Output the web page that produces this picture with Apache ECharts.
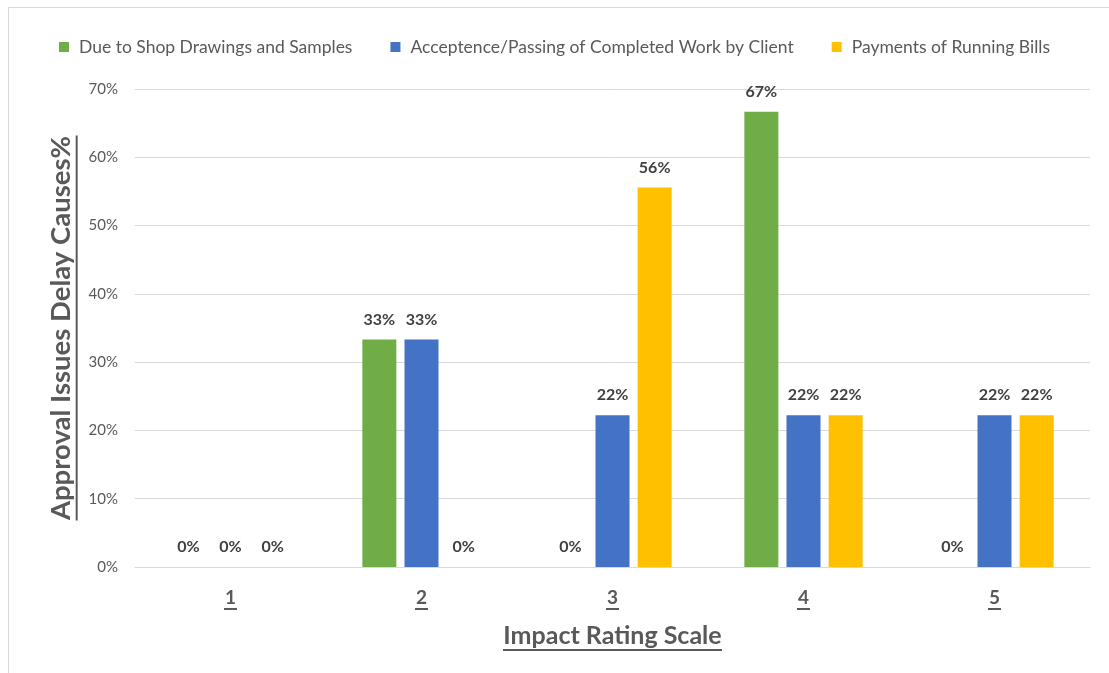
<!DOCTYPE html>
<html>
<head>
<meta charset="utf-8">
<script src="https://cdn.jsdelivr.net/npm/echarts@6/dist/echarts.min.js"></script>
<style>
  html, body { margin: 0; padding: 0; background: #fff; }
  #chart { width: 1109px; height: 673px; }
  #frame { position: absolute; left: 8px; top: 7px; width: 1120px; height: 700px;
           border: 1px solid #d9d9d9; pointer-events: none; }
</style>
</head>
<body>
<div id="chart"></div>
<div id="frame"></div>
<script>
const categories = ['1', '2', '3', '4', '5'];
const seriesNames = [
  'Due to Shop Drawings and Samples',
  'Acceptence/Passing of Completed Work by Client',
  'Payments of Running Bills'
];
const shopDrawings = [0, 33.33, 0, 66.67, 0];
const acceptance = [0, 33.33, 22.22, 22.22, 22.22];
const payments = [0, 0, 55.56, 22.22, 22.22];
const colors = ['#70AD47', '#4472C4', '#FFC000'];
const xName = 'Impact Rating Scale';
const yName = 'Approval Issues Delay Causes%';

const FONT = 'Lato, "Open Sans", sans-serif';

// text width, used to size the underline bars
const ctx = document.createElement('canvas').getContext('2d');
function textWidth(text, size, weight) {
  ctx.font = weight + ' ' + size + 'px ' + FONT;
  return Math.ceil(ctx.measureText(text).width);
}

function barSeries(name, data, color) {
  return {
    name: name,
    type: 'bar',
    data: data,
    barWidth: 34,
    barGap: '24%',
    itemStyle: { color: color },
    label: {
      show: true,
      position: 'top',
      distance: 12,
      fontFamily: FONT,
      fontSize: 16,
      fontWeight: 'bold',
      color: '#404040',
      formatter: p => Math.round(p.value) + '%'
    }
  };
}

let chart = echarts.init(document.getElementById('chart'));
const option = {
  animation: false,
  textStyle: { fontFamily: FONT },
  legend: {
    top: 33,
    left: 'center',
    itemWidth: 10,
    itemHeight: 10,
    itemGap: 38,
    icon: 'rect',
    textStyle: { fontSize: 17.5, color: '#595959', fontFamily: FONT, padding: [0, 0, 0, 5] }
  },
  grid: { left: 135, right: 19, top: 89, bottom: 106 },
  xAxis: {
    type: 'category',
    data: categories,
    axisLine: { lineStyle: { color: '#d9d9d9', width: 1 } },
    axisTick: { show: false },
    axisLabel: {
      margin: 21,
      formatter: v => '{d|' + v + '}\n{u| }',
      rich: {
        d: { fontSize: 19, fontWeight: 'bold', color: '#595959', fontFamily: FONT, lineHeight: 20 },
        u: { width: textWidth('1', 19, 'bold') + 1, height: 2, lineHeight: 2, fontSize: 1, backgroundColor: '#595959' }
      }
    },
    name: '{t|' + xName + '}\n{u| }',
    nameLocation: 'middle',
    nameGap: 55,
    nameTextStyle: {
      rich: {
        t: { fontSize: 25, fontWeight: 'bold', color: '#595959', fontFamily: FONT, lineHeight: 27 },
        u: { width: textWidth(xName, 25, 'bold'), height: 2, lineHeight: 2, fontSize: 1, backgroundColor: '#595959' }
      }
    }
  },
  yAxis: {
    type: 'value',
    min: 0,
    max: 70,
    interval: 10,
    axisLine: { show: false },
    axisTick: { show: false },
    splitLine: { lineStyle: { color: '#d9d9d9', width: 1 } },
    axisLabel: {
      margin: 17,
      formatter: '{value}%',
      fontSize: 15,
      color: '#595959',
      fontFamily: FONT
    },
    name: '{t|' + yName + '}\n{u| }',
    nameLocation: 'middle',
    nameRotate: 90,
    nameGap: 52,
    nameTextStyle: {
      rich: {
        t: { fontSize: 27.5, fontWeight: 'bold', color: '#595959', fontFamily: FONT, lineHeight: 29 },
        u: { width: textWidth(yName, 27.5, 'bold'), height: 2, lineHeight: 2, fontSize: 1, backgroundColor: '#595959' }
      }
    }
  },
  series: [
    barSeries(seriesNames[0], shopDrawings, colors[0]),
    barSeries(seriesNames[1], acceptance, colors[1]),
    barSeries(seriesNames[2], payments, colors[2])
  ]
};
chart.setOption(option);
</script>
</body>
</html>
